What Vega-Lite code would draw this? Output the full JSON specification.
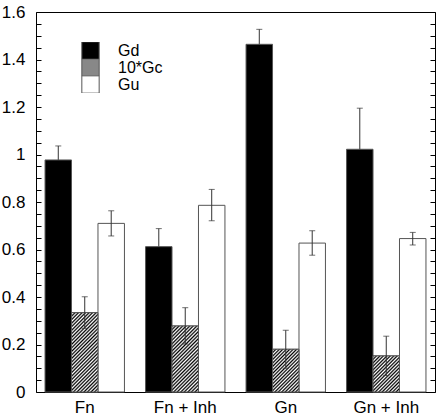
{
"$schema":"https://vega.github.io/schema/vega-lite/v6.json",
"width":399,"height":380,
"autosize":{"type":"none"},
"padding":{"left":36,"top":12,"right":3,"bottom":24},
"config":{"view":{"stroke":"#000","strokeWidth":1},"font":"Liberation Sans","axis":{"grid":false,"domain":false,"title":null}},
"data":{"values":[
{"group":"Fn","series":"Gd","value":0.977,"lo":0.918,"hi":1.036},
{"group":"Fn","series":"10*Gc","value":0.334,"lo":0.268,"hi":0.401},
{"group":"Fn","series":"Gu","value":0.710,"lo":0.657,"hi":0.763},
{"group":"Fn + Inh","series":"Gd","value":0.612,"lo":0.536,"hi":0.688},
{"group":"Fn + Inh","series":"10*Gc","value":0.278,"lo":0.202,"hi":0.355},
{"group":"Fn + Inh","series":"Gu","value":0.786,"lo":0.721,"hi":0.853},
{"group":"Gn","series":"Gd","value":1.464,"lo":1.401,"hi":1.527},
{"group":"Gn","series":"10*Gc","value":0.180,"lo":0.100,"hi":0.260},
{"group":"Gn","series":"Gu","value":0.627,"lo":0.576,"hi":0.679},
{"group":"Gn + Inh","series":"Gd","value":1.022,"lo":0.849,"hi":1.195},
{"group":"Gn + Inh","series":"10*Gc","value":0.152,"lo":0.069,"hi":0.235},
{"group":"Gn + Inh","series":"Gu","value":0.646,"lo":0.619,"hi":0.672}
]},
"encoding":{
"x":{"field":"group","type":"nominal","sort":["Fn","Fn + Inh","Gn","Gn + Inh"],"scale":{"paddingInner":0.21,"paddingOuter":0.09},"axis":{"title":null,"ticks":false,"labelAngle":0,"labelFontSize":17,"labelColor":"#000","labelPadding":7,"domain":false}},
"xOffset":{"field":"series","type":"nominal","sort":["Gd","10*Gc","Gu"],"scale":{"paddingInner":0,"paddingOuter":0}}
},
"layer":[
{"transform":[{"filter":"datum.series === 'Gd'"}],"mark":{"type":"rule","color":"#333","strokeWidth":1},"encoding":{"y":{"field":"lo","type":"quantitative","scale":{"domain":[0,1.6],"nice":false,"zero":true},"axis":null},"y2":{"field":"hi"}}},
{"transform":[{"filter":"datum.series === 'Gd'"}],"mark":{"type":"tick","color":"#333","thickness":1,"size":6},"encoding":{"y":{"field":"hi","type":"quantitative","axis":null}}},
{"mark":{"type":"bar","stroke":"#555","strokeWidth":1},"encoding":{
"y":{"field":"value","type":"quantitative","stack":null,"axis":{"orient":"left","values":[0,0.05,0.1,0.15,0.2,0.25,0.3,0.35,0.4,0.45,0.5,0.55,0.6,0.65,0.7,0.75,0.8,0.85,0.9,0.95,1,1.05,1.1,1.15,1.2,1.25,1.3,1.35,1.4,1.45,1.5,1.55,1.6],"tickSize":-5,"tickColor":"#000","tickWidth":1,"labelExpr":"round(datum.value*100) % 20 == 0 ? format(datum.value, '.1~f') : ''","labelFontSize":17,"labelColor":"#000","labelPadding":16,"labelOverlap":false,"labelBound":false,"labelFlush":false,"domain":false,"grid":false,"title":null}},
"color":{"field":"series","type":"nominal","sort":["Gd","10*Gc","Gu"],"scale":{"domain":["Gd","10*Gc","Gu"],"range":["#000","#888","#fff"]},"legend":{"orient":"none","legendX":45,"legendY":30,"title":null,"symbolType":"square","symbolSize":300,"symbolStrokeColor":"#555","symbolStrokeWidth":1,"symbolOpacity":1,"rowPadding":0,"clipHeight":17,"labelFontSize":16,"labelColor":"#000","labelOffset":18,"padding":0,
"encoding":{"symbols":{"fill":{"condition":[{"test":"datum.value === '10*Gc'","value":{"gradient":"linear","x1":0,"y1":0,"x2":1,"y2":1,"stops":[{"offset":0,"color":"#000"},{"offset":0.05,"color":"#fff"},{"offset":0.1,"color":"#000"},{"offset":0.15,"color":"#fff"},{"offset":0.2,"color":"#000"},{"offset":0.25,"color":"#fff"},{"offset":0.3,"color":"#000"},{"offset":0.35,"color":"#fff"},{"offset":0.4,"color":"#000"},{"offset":0.45,"color":"#fff"},{"offset":0.5,"color":"#000"},{"offset":0.55,"color":"#fff"},{"offset":0.6,"color":"#000"},{"offset":0.65,"color":"#fff"},{"offset":0.7,"color":"#000"},{"offset":0.75,"color":"#fff"},{"offset":0.8,"color":"#000"},{"offset":0.85,"color":"#fff"},{"offset":0.9,"color":"#000"},{"offset":0.95,"color":"#fff"},{"offset":1,"color":"#000"}]}},{"test":"datum.value === 'Gd'","value":"#000"}],"value":"#fff"},"stroke":{"value":"#555"},"strokeWidth":{"value":1},"opacity":{"value":1},"size":{"value":300}}}}}
}},
{"transform":[{"filter":"datum.series === '10*Gc' && datum.group === 'Fn'"}],"mark":{"type":"bar","stroke":"#555","strokeWidth":1,"fill":{"gradient":"linear","x1":0,"y1":0,"x2":0.4027,"y2":1.2004,"stops":[{"offset":0,"color":"#000"},{"offset":0.0167,"color":"#fff"},{"offset":0.0333,"color":"#000"},{"offset":0.05,"color":"#fff"},{"offset":0.0667,"color":"#000"},{"offset":0.0833,"color":"#fff"},{"offset":0.1,"color":"#000"},{"offset":0.1167,"color":"#fff"},{"offset":0.1333,"color":"#000"},{"offset":0.15,"color":"#fff"},{"offset":0.1667,"color":"#000"},{"offset":0.1833,"color":"#fff"},{"offset":0.2,"color":"#000"},{"offset":0.2167,"color":"#fff"},{"offset":0.2333,"color":"#000"},{"offset":0.25,"color":"#fff"},{"offset":0.2667,"color":"#000"},{"offset":0.2833,"color":"#fff"},{"offset":0.3,"color":"#000"},{"offset":0.3167,"color":"#fff"},{"offset":0.3333,"color":"#000"},{"offset":0.35,"color":"#fff"},{"offset":0.3667,"color":"#000"},{"offset":0.3833,"color":"#fff"},{"offset":0.4,"color":"#000"},{"offset":0.4167,"color":"#fff"},{"offset":0.4333,"color":"#000"},{"offset":0.45,"color":"#fff"},{"offset":0.4667,"color":"#000"},{"offset":0.4833,"color":"#fff"},{"offset":0.5,"color":"#000"},{"offset":0.5167,"color":"#fff"},{"offset":0.5333,"color":"#000"},{"offset":0.55,"color":"#fff"},{"offset":0.5667,"color":"#000"},{"offset":0.5833,"color":"#fff"},{"offset":0.6,"color":"#000"},{"offset":0.6167,"color":"#fff"},{"offset":0.6333,"color":"#000"},{"offset":0.65,"color":"#fff"},{"offset":0.6667,"color":"#000"},{"offset":0.6833,"color":"#fff"},{"offset":0.7,"color":"#000"},{"offset":0.7167,"color":"#fff"},{"offset":0.7333,"color":"#000"},{"offset":0.75,"color":"#fff"},{"offset":0.7667,"color":"#000"},{"offset":0.7833,"color":"#fff"},{"offset":0.8,"color":"#000"},{"offset":0.8167,"color":"#fff"},{"offset":0.8333,"color":"#000"},{"offset":0.85,"color":"#fff"},{"offset":0.8667,"color":"#000"},{"offset":0.8833,"color":"#fff"},{"offset":0.9,"color":"#000"},{"offset":0.9167,"color":"#fff"},{"offset":0.9333,"color":"#000"},{"offset":0.95,"color":"#fff"},{"offset":0.9667,"color":"#000"},{"offset":0.9833,"color":"#fff"},{"offset":1,"color":"#000"}]}},"encoding":{"y":{"field":"value","type":"quantitative","axis":null}}},
{"transform":[{"filter":"datum.series === '10*Gc' && datum.group === 'Fn + Inh'"}],"mark":{"type":"bar","stroke":"#555","strokeWidth":1,"fill":{"gradient":"linear","x1":0,"y1":0,"x2":0.4864,"y2":1.2068,"stops":[{"offset":0,"color":"#000"},{"offset":0.0192,"color":"#fff"},{"offset":0.0385,"color":"#000"},{"offset":0.0577,"color":"#fff"},{"offset":0.0769,"color":"#000"},{"offset":0.0962,"color":"#fff"},{"offset":0.1154,"color":"#000"},{"offset":0.1346,"color":"#fff"},{"offset":0.1538,"color":"#000"},{"offset":0.1731,"color":"#fff"},{"offset":0.1923,"color":"#000"},{"offset":0.2115,"color":"#fff"},{"offset":0.2308,"color":"#000"},{"offset":0.25,"color":"#fff"},{"offset":0.2692,"color":"#000"},{"offset":0.2885,"color":"#fff"},{"offset":0.3077,"color":"#000"},{"offset":0.3269,"color":"#fff"},{"offset":0.3462,"color":"#000"},{"offset":0.3654,"color":"#fff"},{"offset":0.3846,"color":"#000"},{"offset":0.4038,"color":"#fff"},{"offset":0.4231,"color":"#000"},{"offset":0.4423,"color":"#fff"},{"offset":0.4615,"color":"#000"},{"offset":0.4808,"color":"#fff"},{"offset":0.5,"color":"#000"},{"offset":0.5192,"color":"#fff"},{"offset":0.5385,"color":"#000"},{"offset":0.5577,"color":"#fff"},{"offset":0.5769,"color":"#000"},{"offset":0.5962,"color":"#fff"},{"offset":0.6154,"color":"#000"},{"offset":0.6346,"color":"#fff"},{"offset":0.6538,"color":"#000"},{"offset":0.6731,"color":"#fff"},{"offset":0.6923,"color":"#000"},{"offset":0.7115,"color":"#fff"},{"offset":0.7308,"color":"#000"},{"offset":0.75,"color":"#fff"},{"offset":0.7692,"color":"#000"},{"offset":0.7885,"color":"#fff"},{"offset":0.8077,"color":"#000"},{"offset":0.8269,"color":"#fff"},{"offset":0.8462,"color":"#000"},{"offset":0.8654,"color":"#fff"},{"offset":0.8846,"color":"#000"},{"offset":0.9038,"color":"#fff"},{"offset":0.9231,"color":"#000"},{"offset":0.9423,"color":"#fff"},{"offset":0.9615,"color":"#000"},{"offset":0.9808,"color":"#fff"},{"offset":1,"color":"#000"}]}},"encoding":{"y":{"field":"value","type":"quantitative","axis":null}}},
{"transform":[{"filter":"datum.series === '10*Gc' && datum.group === 'Gn'"}],"mark":{"type":"bar","stroke":"#555","strokeWidth":1,"fill":{"gradient":"linear","x1":0,"y1":0,"x2":0.7276,"y2":1.1693,"stops":[{"offset":0,"color":"#000"},{"offset":0.025,"color":"#fff"},{"offset":0.05,"color":"#000"},{"offset":0.075,"color":"#fff"},{"offset":0.1,"color":"#000"},{"offset":0.125,"color":"#fff"},{"offset":0.15,"color":"#000"},{"offset":0.175,"color":"#fff"},{"offset":0.2,"color":"#000"},{"offset":0.225,"color":"#fff"},{"offset":0.25,"color":"#000"},{"offset":0.275,"color":"#fff"},{"offset":0.3,"color":"#000"},{"offset":0.325,"color":"#fff"},{"offset":0.35,"color":"#000"},{"offset":0.375,"color":"#fff"},{"offset":0.4,"color":"#000"},{"offset":0.425,"color":"#fff"},{"offset":0.45,"color":"#000"},{"offset":0.475,"color":"#fff"},{"offset":0.5,"color":"#000"},{"offset":0.525,"color":"#fff"},{"offset":0.55,"color":"#000"},{"offset":0.575,"color":"#fff"},{"offset":0.6,"color":"#000"},{"offset":0.625,"color":"#fff"},{"offset":0.65,"color":"#000"},{"offset":0.675,"color":"#fff"},{"offset":0.7,"color":"#000"},{"offset":0.725,"color":"#fff"},{"offset":0.75,"color":"#000"},{"offset":0.775,"color":"#fff"},{"offset":0.8,"color":"#000"},{"offset":0.825,"color":"#fff"},{"offset":0.85,"color":"#000"},{"offset":0.875,"color":"#fff"},{"offset":0.9,"color":"#000"},{"offset":0.925,"color":"#fff"},{"offset":0.95,"color":"#000"},{"offset":0.975,"color":"#fff"},{"offset":1,"color":"#000"}]}},"encoding":{"y":{"field":"value","type":"quantitative","axis":null}}},
{"transform":[{"filter":"datum.series === '10*Gc' && datum.group === 'Gn + Inh'"}],"mark":{"type":"bar","stroke":"#555","strokeWidth":1,"fill":{"gradient":"linear","x1":0,"y1":0,"x2":0.8294,"y2":1.1255,"stops":[{"offset":0,"color":"#000"},{"offset":0.0278,"color":"#fff"},{"offset":0.0556,"color":"#000"},{"offset":0.0833,"color":"#fff"},{"offset":0.1111,"color":"#000"},{"offset":0.1389,"color":"#fff"},{"offset":0.1667,"color":"#000"},{"offset":0.1944,"color":"#fff"},{"offset":0.2222,"color":"#000"},{"offset":0.25,"color":"#fff"},{"offset":0.2778,"color":"#000"},{"offset":0.3056,"color":"#fff"},{"offset":0.3333,"color":"#000"},{"offset":0.3611,"color":"#fff"},{"offset":0.3889,"color":"#000"},{"offset":0.4167,"color":"#fff"},{"offset":0.4444,"color":"#000"},{"offset":0.4722,"color":"#fff"},{"offset":0.5,"color":"#000"},{"offset":0.5278,"color":"#fff"},{"offset":0.5556,"color":"#000"},{"offset":0.5833,"color":"#fff"},{"offset":0.6111,"color":"#000"},{"offset":0.6389,"color":"#fff"},{"offset":0.6667,"color":"#000"},{"offset":0.6944,"color":"#fff"},{"offset":0.7222,"color":"#000"},{"offset":0.75,"color":"#fff"},{"offset":0.7778,"color":"#000"},{"offset":0.8056,"color":"#fff"},{"offset":0.8333,"color":"#000"},{"offset":0.8611,"color":"#fff"},{"offset":0.8889,"color":"#000"},{"offset":0.9167,"color":"#fff"},{"offset":0.9444,"color":"#000"},{"offset":0.9722,"color":"#fff"},{"offset":1,"color":"#000"}]}},"encoding":{"y":{"field":"value","type":"quantitative","axis":null}}},
{"transform":[{"filter":"datum.series !== 'Gd'"}],"mark":{"type":"rule","color":"#333","strokeWidth":1},"encoding":{"y":{"field":"lo","type":"quantitative","axis":{"orient":"right","values":[0,0.05,0.1,0.15,0.2,0.25,0.3,0.35,0.4,0.45,0.5,0.55,0.6,0.65,0.7,0.75,0.8,0.85,0.9,0.95,1,1.05,1.1,1.15,1.2,1.25,1.3,1.35,1.4,1.45,1.5,1.55,1.6],"labels":false,"tickSize":-5,"tickColor":"#000","tickWidth":1,"domain":false,"grid":false,"title":null}},"y2":{"field":"hi"}}},
{"transform":[{"filter":"datum.series !== 'Gd'"}],"mark":{"type":"tick","color":"#333","thickness":1,"size":6},"encoding":{"y":{"field":"hi","type":"quantitative","axis":null}}},
{"transform":[{"filter":"datum.series !== 'Gd'"}],"mark":{"type":"tick","color":"#333","thickness":1,"size":6},"encoding":{"y":{"field":"lo","type":"quantitative","axis":null}}}
],
"resolve":{"axis":{"y":"independent"}}
}
